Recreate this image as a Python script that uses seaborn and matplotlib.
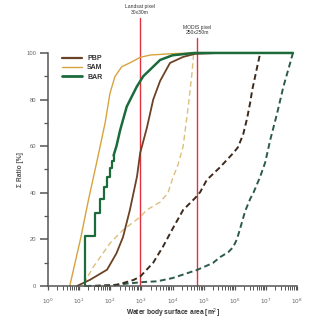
import matplotlib
matplotlib.use("Agg")
import matplotlib.pyplot as plt
import numpy as np
import pandas as pd
import seaborn as sns
from matplotlib.lines import Line2D
from matplotlib.ticker import LogLocator, FixedLocator, NullFormatter

# ---------------- data (area in m², cumulative ratio in %) ----------------
sites = ["PBP", "SAM", "BAR"]

pbp_count_area = [8.5, 22, 79, 158, 257, 427, 724, 912, 1510, 2400, 4000, 8300, 21900, 52500, 316000, 6.6e6]
pbp_count_ratio = [0, 2.6, 7, 14, 21, 32.6, 47, 57, 68, 80, 88, 95.7, 98.3, 99.6, 100, 100]

sam_count_area = [5, 11, 20, 38, 68, 98, 141, 234, 436, 910, 1900, 10000, 50000]
sam_count_ratio = [0, 20, 37, 54, 69.8, 82.7, 89.8, 94.1, 95.8, 98.1, 99.1, 99.7, 100]

bar_step_area = [16, 16, 32, 48, 64, 80, 96, 112, 128]
bar_step_ratio = [0, 21.5, 31.5, 37.3, 42.6, 46.9, 50.6, 53.5, 56]
bar_count_area = [128, 158, 209, 339, 708, 1150, 1860, 4000, 10000, 50000, 7.4e7]
bar_count_ratio = [56, 60, 67, 77, 85.5, 90, 92.7, 97, 99, 100, 100]

pbp_area_area = [32, 158, 562, 912, 2400, 5000, 10500, 21900, 53700, 77600, 126000, 339000, 890000,
                 1.26e6, 1.86e6, 2.5e6, 3.16e6, 3.63e6, 5.25e6, 6.6e6]
pbp_area_ratio = [0, 0.4, 2.6, 4, 10, 17, 25, 32.6, 37.8, 40.3, 45.5, 51, 57,
                  59.5, 65, 72, 79, 84, 94, 100]

sam_area_area = [14, 28, 100, 257, 912, 1480, 4000, 7200, 10000, 15000, 22000, 32000, 42000, 48000]
sam_area_ratio = [1, 8, 18.5, 24, 29.6, 32.6, 36, 40, 46, 52, 60, 77, 91, 100]

bar_area_area = [16, 100, 1120, 3160, 10000, 61700, 200000, 339000, 617000, 891000, 1.17e6, 1.48e6,
                 2.14e6, 3.16e6, 3.98e6, 6.6e6, 9.5e6, 1.38e7, 2.29e7, 3.63e7, 6.03e7, 7.4e7]
bar_area_ratio = [0, 0.3, 1.7, 2.0, 3.4, 6.9, 9.9, 12.4, 14.5, 16.7, 20, 24.5,
                  32, 37.5, 40, 47, 53, 62.7, 74, 85.4, 95.7, 100]

x_tick_values = [1e0, 1e1, 1e2, 1e3, 1e4, 1e5, 1e6, 1e7, 1e8]
x_tick_labels = [r"$10^{%d}$" % i for i in range(9)]
y_tick_values = [0, 20, 40, 60, 80, 100]

landsat_area = 900
modis_area = 62500

# ---------------- style ----------------
sns.set_theme(style="white")
plt.rcParams["font.family"] = ["Liberation Sans", "DejaVu Sans"]

c_pbp, c_pbp_d = "#6b4225", "#3d2a1c"
c_sam, c_sam_d = "#d7a33e", "#dcbf7c"
c_bar, c_bar_d = "#1b6b3b", "#2c5a49"
c_red = "#e2303f"

fig = plt.figure(figsize=(3.2, 3.2), dpi=100)
ax = fig.add_axes([48 / 320, 1 - 286 / 320, (297 - 48) / 320, (286 - 18) / 320])

def draw(xs, ys, color, lw, ls="-", **kw):
    sns.lineplot(x=xs, y=ys, ax=ax, color=color, lw=lw, linestyle=ls,
                 estimator=None, sort=False, legend=False, clip_on=False, **kw)

# area-ratio (dashed)
draw(bar_area_area, bar_area_ratio, c_bar_d, 1.4, (0, (3, 1.8)))
draw(pbp_area_area, pbp_area_ratio, c_pbp_d, 1.4, (0, (3, 1.8)))
draw(sam_area_area, sam_area_ratio, c_sam_d, 1.0, (0, (4, 2.5)))
# count-ratio (solid)
draw(pbp_count_area, pbp_count_ratio, c_pbp, 1.3)
draw(sam_count_area, sam_count_ratio, c_sam, 1.0)
draw(bar_step_area, bar_step_ratio, c_bar, 1.6, drawstyle="steps-post")
draw(bar_count_area, bar_count_ratio, c_bar, 1.8)

ax.set_xscale("log")
ax.set_xlim(1, 1e8)
ax.set_ylim(0, 115)

# pixel size marks
ax.plot([landsat_area, landsat_area], [0, 115], color=c_red, lw=1.0, clip_on=False, zorder=1)
ax.plot([modis_area, modis_area], [0, 106.4], color=c_red, lw=1.0, clip_on=False, zorder=1)
ax.text(landsat_area, 116.5, "Landsat pixel\n30x30m", ha="center", va="bottom",
        fontsize=3.6, color="#333333", linespacing=1.1, clip_on=False)
ax.text(modis_area, 107.5, "MODIS pixel\n250x250m", ha="center", va="bottom",
        fontsize=3.6, color="#333333", linespacing=1.1, clip_on=False)

# axes styling
for s in ["top", "right"]:
    ax.spines[s].set_visible(False)
for s in ["left", "bottom"]:
    ax.spines[s].set_color("#555555")
    ax.spines[s].set_linewidth(1.1)
ax.spines["left"].set_bounds(0, 100)

ax.yaxis.set_major_locator(FixedLocator(y_tick_values))
ax.yaxis.set_minor_locator(FixedLocator([10, 30, 50, 70, 90]))
ax.xaxis.set_major_locator(FixedLocator(x_tick_values))
ax.xaxis.set_minor_locator(LogLocator(base=10, subs=np.arange(2, 10), numticks=20))
ax.xaxis.set_minor_formatter(NullFormatter())
ax.set_xticklabels(x_tick_labels)
ax.tick_params(axis="y", which="major", direction="out", length=5.5, width=1.1,
               color="#555555", labelsize=4.2, labelcolor="#666666", pad=3, left=True)
ax.tick_params(axis="y", which="minor", direction="out", length=3, width=0.9,
               color="#555555", left=True)
ax.tick_params(axis="x", which="major", direction="out", length=3.2, width=0.9,
               color="#555555", labelsize=4.2, labelcolor="#666666", pad=4.5, bottom=True)
ax.tick_params(axis="x", which="minor", direction="out", length=2.6, width=0.7,
               color="#555555", bottom=True)

ax.set_xlabel("Water body surface area [m$^2$]", fontsize=4.8, fontweight="bold",
              color="#333333", labelpad=0.5)
ax.set_ylabel("Σ Ratio [%]", fontsize=4.8, fontweight="bold", color="#555555", labelpad=4)
ax.yaxis.set_label_coords(-0.095, 100 / 115 / 2)

handles = [Line2D([], [], color=c_pbp, lw=1.6),
           Line2D([], [], color=c_sam, lw=1.0),
           Line2D([], [], color=c_bar, lw=2.0)]
leg = ax.legend(handles, sites, loc="upper left", bbox_to_anchor=(62 / 320, 1 - 55 / 320),
                bbox_transform=fig.transFigure, frameon=False, fontsize=5,
                handlelength=2.9, handletextpad=0.7, labelspacing=0.35,
                borderpad=0, borderaxespad=0)
for t in leg.get_texts():
    t.set_fontweight("bold")
    t.set_color("#333333")

fig.savefig("out.png", dpi=100, facecolor="white")
